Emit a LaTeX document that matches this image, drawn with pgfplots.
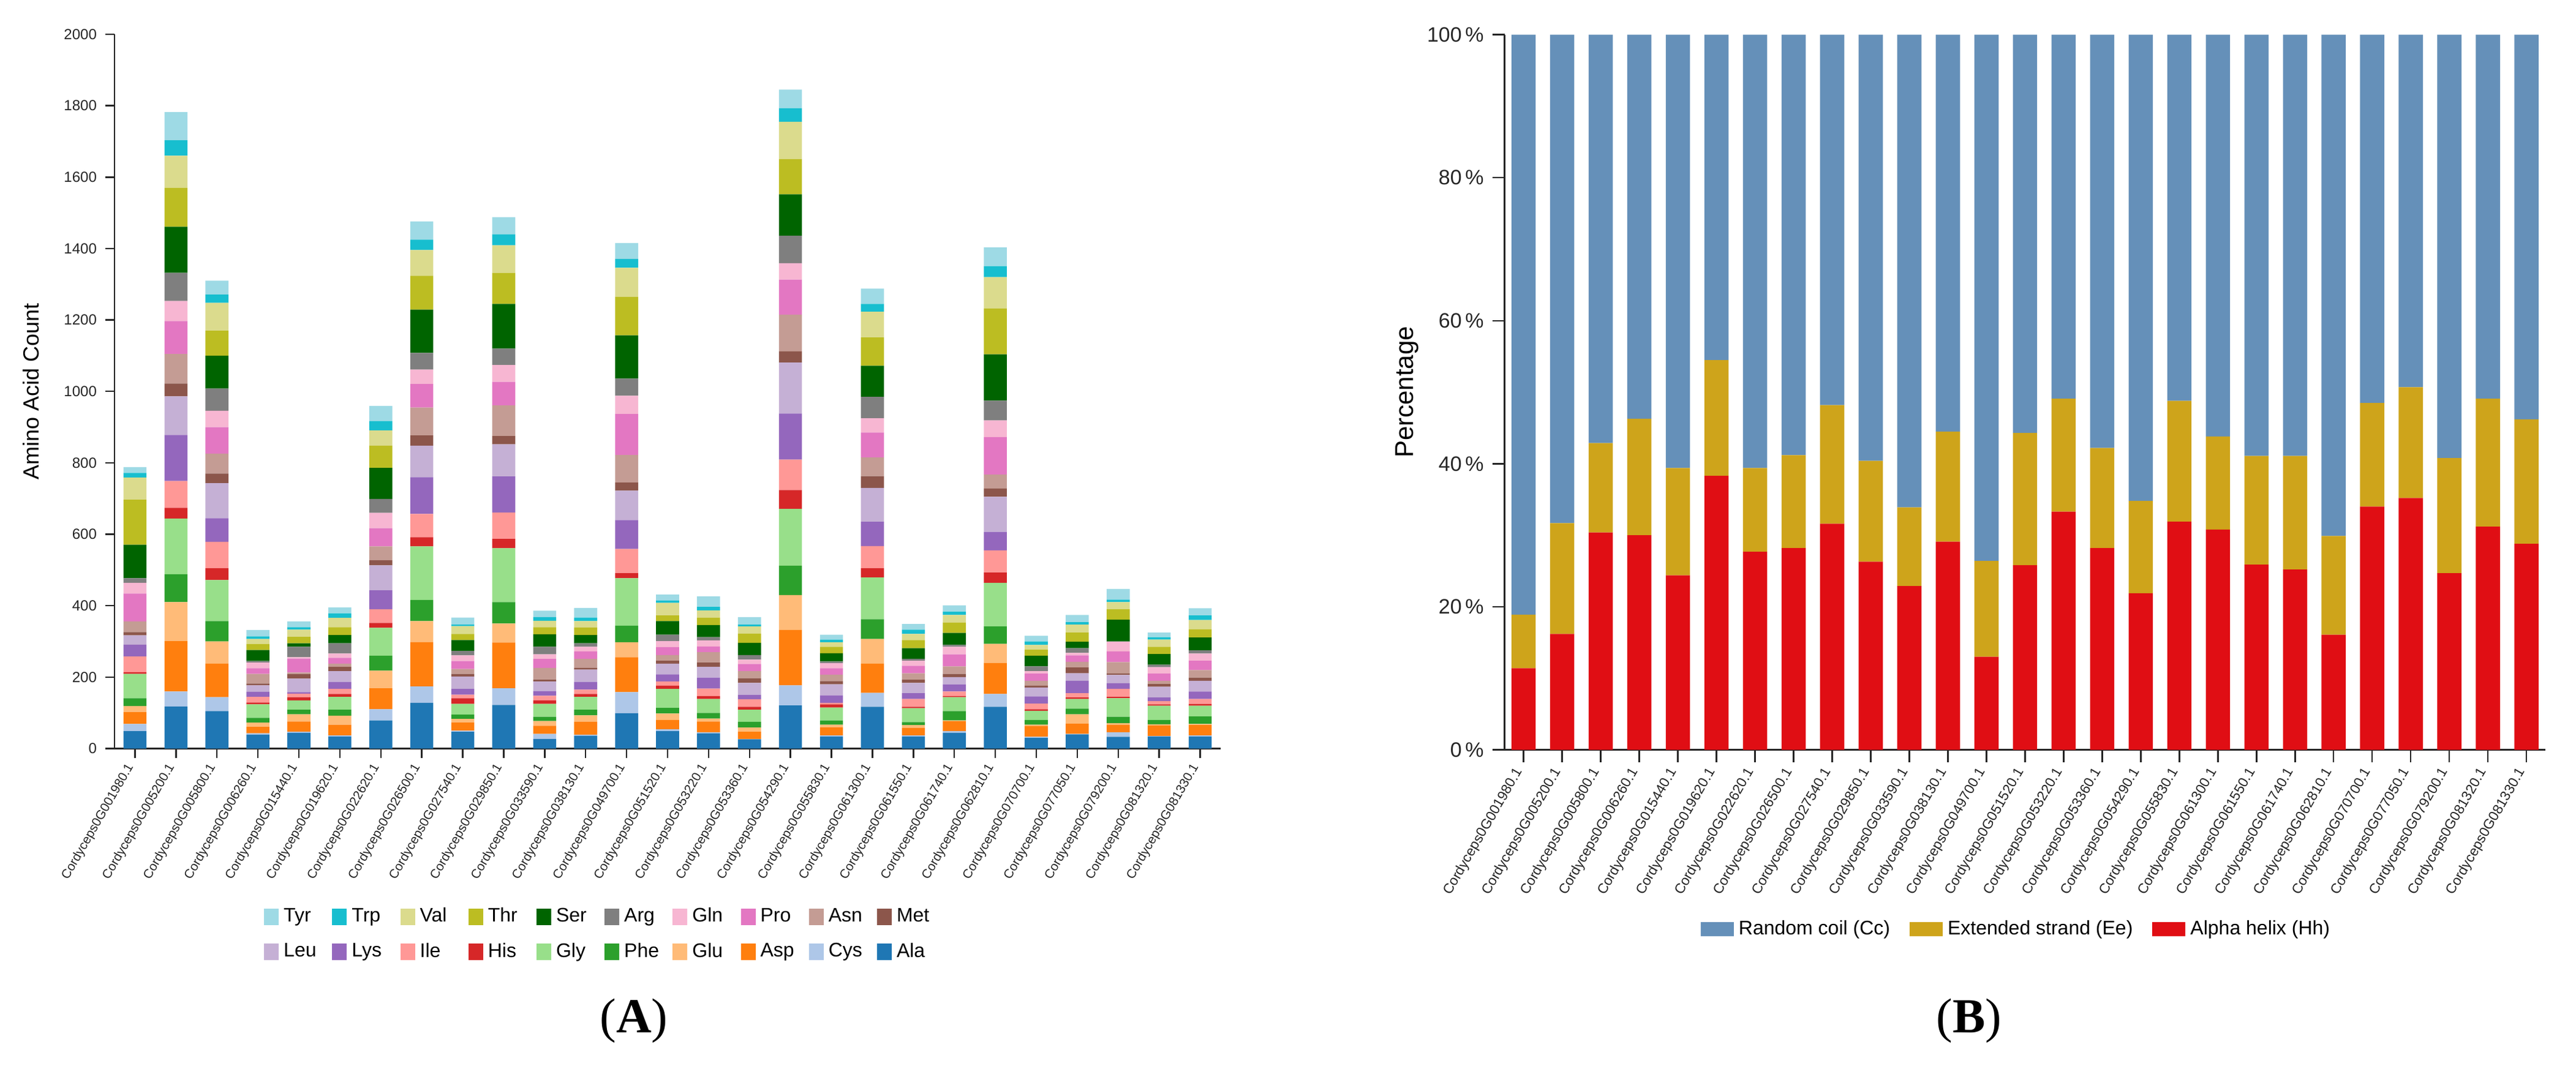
\documentclass[border=0pt]{standalone}
\usepackage{pgfplots}
\pgfplotsset{compat=1.18}
\usepackage{pgfplotstable}
\usepackage{fontspec}
\setmainfont{Liberation Sans}
\newfontfamily\seriff{Liberation Serif}

\definecolor{cAla}{HTML}{1F77B4}
\definecolor{cCys}{HTML}{AEC7E8}
\definecolor{cAsp}{HTML}{FF7F0E}
\definecolor{cGlu}{HTML}{FFBB78}
\definecolor{cPhe}{HTML}{2CA02C}
\definecolor{cGly}{HTML}{98DF8A}
\definecolor{cHis}{HTML}{D62728}
\definecolor{cIle}{HTML}{FF9896}
\definecolor{cLys}{HTML}{9467BD}
\definecolor{cLeu}{HTML}{C5B0D5}
\definecolor{cMet}{HTML}{8C564B}
\definecolor{cAsn}{HTML}{C49C94}
\definecolor{cPro}{HTML}{E377C2}
\definecolor{cGln}{HTML}{F7B6D2}
\definecolor{cArg}{HTML}{7F7F7F}
\definecolor{cSer}{HTML}{006400}
\definecolor{cThr}{HTML}{BCBD22}
\definecolor{cVal}{HTML}{DBDB8D}
\definecolor{cTrp}{HTML}{17BECF}
\definecolor{cTyr}{HTML}{9EDAE5}
\definecolor{cCoil}{HTML}{6590B9}
\definecolor{cStrand}{HTML}{CEA41B}
\definecolor{cHelix}{HTML}{E00E14}

\pgfplotstableread{
x Ala Cys Asp Glu Phe Gly His Ile Lys Leu Met Asn Pro Gln Arg Ser Thr Val Trp Tyr
0 49 20 33 17 22 68 5 44 33 26 9 30 78 30 13 94 126 62 13 16
1 118 42 141 109 78 156 30 75 129 108 36 83 92 56 79 129 109 90 43 79
2 105 39 94 62 57 115 33 74 66 98 27 56 74 46 62 92 70 78 23 39
3 39 4 18 12 13 38 5 16 14 18 5 27 16 16 4 31 17 14 7 18
4 44 3 29 20 13 26 9 10 4 38 13 4 39 4 29 10 18 20 7 16
5 34 3 30 25 17 36 8 14 20 30 12 9 16 12 29 23 22 26 13 16
6 79 31 59 49 42 78 14 38 53 70 14 39 51 43 39 87 62 43 26 42
7 128 46 124 59 59 150 26 65 103 88 29 78 66 40 47 121 95 72 29 51
8 47 3 23 10 12 30 16 10 16 35 7 14 22 16 13 30 17 22 4 20
9 122 47 128 53 60 151 26 74 101 90 23 86 66 47 46 125 87 77 31 48
10 27 14 23 13 12 36 10 13 13 27 5 33 25 13 21 35 20 18 10 18
11 36 3 36 18 16 36 8 12 22 34 5 25 21 13 10 23 21 18 10 27
12 99 59 98 42 46 133 14 68 81 82 23 77 115 51 48 121 108 81 25 44
13 49 5 26 18 16 53 9 12 20 30 8 16 22 17 18 38 16 35 7 16
14 43 3 30 8 16 39 8 21 31 30 12 29 16 17 9 34 21 20 10 29
15 26 1 20 12 16 34 8 21 13 33 13 20 20 12 13 34 26 20 5 21
16 121 56 155 98 82 159 53 85 129 143 31 103 98 46 77 116 99 104 38 52
17 34 3 23 7 12 36 9 4 21 31 9 18 18 14 5 23 18 13 7 14
18 117 39 82 69 55 117 26 62 68 95 33 52 70 40 60 87 79 72 22 43
19 34 3 21 8 8 39 4 22 16 29 9 18 21 14 5 30 23 17 12 16
20 44 5 28 2 26 39 3 13 20 20 9 21 34 21 5 34 29 21 9 18
21 117 36 87 53 49 122 29 62 52 98 23 39 105 47 55 130 128 88 31 52
22 30 3 30 4 13 26 4 16 20 25 5 14 20 7 13 30 17 13 10 16
23 40 1 29 26 16 27 4 12 35 21 16 16 18 7 13 18 26 22 7 20
24 33 13 21 4 18 52 4 22 16 23 5 31 30 27 1 61 29 20 7 30
25 34 1 30 3 12 40 4 9 10 30 8 9 20 18 7 30 20 20 7 13
26 34 3 29 3 21 30 5 14 21 30 9 21 26 20 9 36 23 26 13 20
}\dataA

\pgfplotstableread{
x H E C
0 11.4 7.5 81.1
1 16.2 15.5 68.3
2 30.4 12.5 57.1
3 30.0 16.3 53.7
4 24.4 15.0 60.6
5 38.3 16.2 45.5
6 27.7 11.7 60.6
7 28.2 13.0 58.8
8 31.6 16.6 51.8
9 26.3 14.1 59.6
10 22.9 11.0 66.1
11 29.1 15.4 55.5
12 13.0 13.4 73.6
13 25.8 18.5 55.7
14 33.3 15.8 50.9
15 28.2 14.0 57.8
16 21.9 12.9 65.2
17 31.9 16.9 51.2
18 30.8 13.0 56.2
19 25.9 15.2 58.9
20 25.2 15.9 58.9
21 16.1 13.8 70.1
22 34.0 14.5 51.5
23 35.2 15.5 49.3
24 24.7 16.1 59.2
25 31.2 17.9 50.9
26 28.8 17.4 53.8
}\dataB

\pgfplotsset{
  genelabels/.style={xticklabels={Cordyceps0G001980.1,Cordyceps0G005200.1,Cordyceps0G005800.1,Cordyceps0G006260.1,Cordyceps0G015440.1,Cordyceps0G019620.1,Cordyceps0G022620.1,Cordyceps0G026500.1,Cordyceps0G027540.1,Cordyceps0G029850.1,Cordyceps0G033590.1,Cordyceps0G038130.1,Cordyceps0G049700.1,Cordyceps0G051520.1,Cordyceps0G053220.1,Cordyceps0G053360.1,Cordyceps0G054290.1,Cordyceps0G055830.1,Cordyceps0G061300.1,Cordyceps0G061550.1,Cordyceps0G061740.1,Cordyceps0G062810.1,Cordyceps0G070700.1,Cordyceps0G077050.1,Cordyceps0G079200.1,Cordyceps0G081320.1,Cordyceps0G081330.1}},
  sqlegA/.style={legend image code/.code={\fill[##1] (0pt,-3.4pt) rectangle (6pt,3.4pt);}},
  sqlegB/.style={legend image code/.code={\fill[##1] (0pt,-2.9pt) rectangle (13.5pt,2.9pt);}},
}

\begin{document}
\begin{tikzpicture}
\useasboundingbox (0,0) rectangle (1051.5pt,435.25pt);

\begin{axis}[
  at={(46.75pt,129.6pt)}, anchor=south west,
  scale only axis, width=451.5pt, height=291.65pt,
  ybar stacked, bar width=9.4pt,
  xmin=-0.5, xmax=26.5, ymin=0, ymax=2000,
  xtick={0,...,26}, genelabels,
  ytick={0,200,...,2000},
  axis x line*=bottom, axis y line*=left,
  axis line style={-, line width=0.7pt, black!85},
  tick style={line width=0.6pt, black!85},
  tick align=outside, major tick length=3.75pt,
  /pgf/number format/assume math mode=true,
  /pgf/number format/1000 sep={},
  yticklabel style={font=\fontsize{6}{7}\selectfont, text=black!85},
  xticklabel style={font=\fontsize{5.2}{6}\selectfont, rotate=60, anchor=east, text=black!85},
  ylabel={Amino Acid Count},
  every axis y label/.style={at={(axis description cs:-0.0753,0.5)}, anchor=center, rotate=90, font=\fontsize{9}{10}\selectfont},
  legend columns=10, reverse legend,
  legend style={draw=none, fill=none, at={(0.44,-0.26)}, anchor=center,
    font=\fontsize{8}{9}\selectfont, row sep=3pt,
    /tikz/every even column/.append style={column sep=2.8pt}},
]
\pgfplotsinvokeforeach{Ala,Cys,Asp,Glu,Phe,Gly,His,Ile,Lys,Leu,Met,Asn,Pro,Gln,Arg,Ser,Thr,Val,Trp,Tyr}{
  \addplot[fill=c#1, draw=none, sqlegA] table[x=x, y=#1] {\dataA};
  \addlegendentry{\makebox[15pt][l]{#1}}
}
\end{axis}

\begin{axis}[
  at={(614.2pt,129.1pt)}, anchor=south west,
  scale only axis, width=424.8pt, height=292pt,
  ybar stacked, bar width=9.9pt,
  xmin=-0.49, xmax=26.49, ymin=0, ymax=100,
  xtick={0,...,26}, genelabels,
  ytick={0,20,...,100},
  yticklabels={0\,\%,20\,\%,40\,\%,60\,\%,80\,\%,100\,\%},
  axis x line*=bottom, axis y line*=left,
  axis line style={-, line width=0.8pt, black!85},
  tick style={line width=0.6pt, black!85},
  tick align=outside, major tick length=5pt,
  yticklabel style={font=\fontsize{8.5}{10}\selectfont, text=black!85},
  xticklabel style={font=\fontsize{5.7}{6.5}\selectfont, rotate=60, anchor=east, text=black!85},
  ylabel={Percentage},
  every axis y label/.style={at={(axis description cs:-0.094,0.5)}, anchor=center, rotate=90, font=\fontsize{10.5}{12}\selectfont},
  legend columns=3, reverse legend,
  legend style={draw=none, fill=none, at={(0.493,-0.251)}, anchor=center,
    font=\fontsize{8}{9}\selectfont,
    /tikz/every even column/.append style={column sep=6pt}},
]
\addplot[fill=cHelix, draw=none, sqlegB] table[x=x, y=H] {\dataB};
\addlegendentry{Alpha helix (Hh)}
\addplot[fill=cStrand, draw=none, sqlegB] table[x=x, y=E] {\dataB};
\addlegendentry{Extended strand (Ee)}
\addplot[fill=cCoil, draw=none, sqlegB] table[x=x, y=C] {\dataB};
\addlegendentry{Random coil (Cc)}
\end{axis}

\node[font=\seriff\fontsize{20}{24}\selectfont] at (258.75pt,18.5pt) {(\textbf{A})};
\node[font=\seriff\fontsize{20}{24}\selectfont] at (803.75pt,18.5pt) {(\textbf{B})};
\end{tikzpicture}
\end{document}
